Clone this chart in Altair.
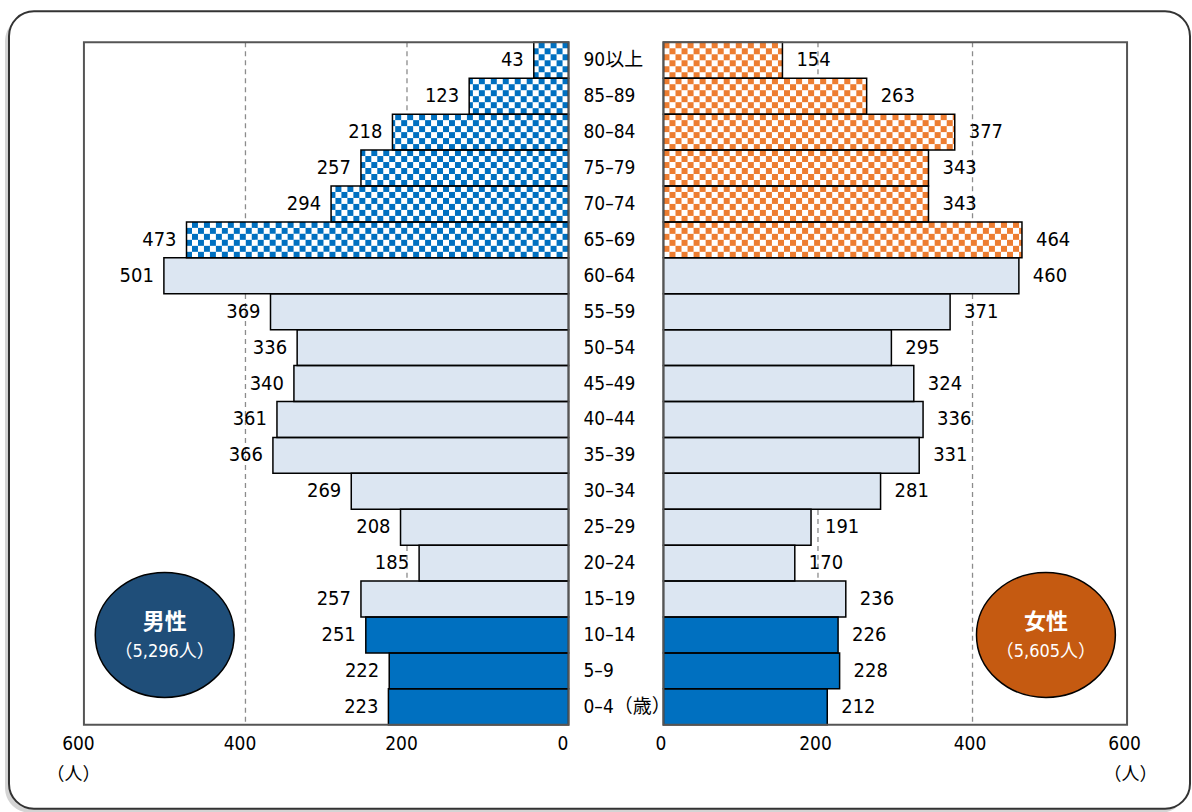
import altair as alt
import pandas as pd

# ---------------- data ----------------
ages = ["90以上", "85–89", "80–84", "75–79", "70–74", "65–69", "60–64", "55–59",
        "50–54", "45–49", "40–44", "35–39", "30–34", "25–29", "20–24", "15–19",
        "10–14", "5–9", "0–4（歳）"]
male = [43, 123, 218, 257, 294, 473, 501, 369, 336, 340, 361, 366, 269, 208, 185, 257, 251, 222, 223]
female = [154, 263, 377, 343, 343, 464, 460, 371, 295, 324, 336, 331, 281, 191, 170, 236, 226, 228, 212]
groups = ["pattern"] * 6 + ["light"] * 10 + ["solid"] * 3
male_label = "男性"
female_label = "女性"
male_total = "（5,296人）"
female_total = "（5,605人）"
tick_values = [0, 200, 400, 600]
grid_values = [200, 400]
unit_label = "（人）"

# ---------------- style ----------------
NUM_FONT = "DejaVu Sans Condensed, Noto Sans CJK JP, sans-serif"
CJK_FONT = "Noto Sans CJK JP, sans-serif"
W_L, W_M, W_R, H = 485, 95, 464, 683
ROWS = 6
N = len(ages)

male_colors = ["#FFFFFF", "#DCE6F2", "#0070C0"]
female_colors = ["#FFFFFF", "#FBE5D6", "#ED7D31"]
male_check = "#0070C0"
female_check = "#ED7D31"
ellipse = "M-1,0A1,0.9,0,1,1,1,0A1,0.9,0,1,1,-1,0Z"


def base_df(values):
    return pd.DataFrame({
        "age": ages, "value": values, "group": groups,
        "pos": list(range(N)),
        "pos2": [i + 1 for i in range(N)],
        "mid": [i + 0.5 for i in range(N)],
    })


def checker_df(values, cell):
    recs = []
    for i, (v, g) in enumerate(zip(values, groups)):
        if g != "pattern":
            continue
        c = 0
        while c * cell < v:
            x0 = c * cell
            x1 = min((c + 1) * cell, v)
            for r in range(ROWS):
                if (c + r) % 2 == 0:
                    recs.append({"x0": x0, "x1": x1,
                                 "y0": i + r / ROWS, "y1": i + (r + 1) / ROWS})
            c += 1
    return pd.DataFrame(recs)


ys = alt.Scale(domain=[0, N], reverse=True, nice=False, zero=False)


def panel(values, colors, check_color, cell, reverse, width, label_align, label_dx,
          axis_dx, title_x, circle_x, circle_color, sex, total, with_card=False):
    df = base_df(values)
    xs = alt.Scale(domain=[0, 600], reverse=reverse, nice=False, zero=True)
    axis = alt.Axis(values=tick_values, grid=False, ticks=False, domain=False,
                    labelFont=NUM_FONT, labelFontSize=19, labelColor="black",
                    labelPadding=10, labelOffset=axis_dx, labelFlush=False, format="d",
                    title=unit_label, titleFont=CJK_FONT, titleFontSize=18,
                    titleFontWeight="normal", titleColor="black",
                    titleX=title_x, titleY=50, titleAlign="center",
                    titleBaseline="middle", zindex=1)
    layers = []
    if with_card:
        shadow = alt.Chart(pd.DataFrame({"a": [0]})).mark_rect(
            cornerRadius=25, fill="#b0b0b0", opacity=0.55).encode(
            x=alt.value(-79), x2=alt.value(1103), y=alt.value(-26), y2=alt.value(771))
        card = alt.Chart(pd.DataFrame({"a": [0]})).mark_rect(
            cornerRadius=25, fill="white", stroke="#333333", strokeWidth=2).encode(
            x=alt.value(-75), x2=alt.value(1107), y=alt.value(-31), y2=alt.value(767))
        layers += [shadow, card]

    rules = alt.Chart(pd.DataFrame({"v": grid_values})).mark_rule(
        color="#8c8c8c", strokeDash=[5, 4], strokeWidth=1.3).encode(
        x=alt.X("v:Q", scale=xs, axis=axis))

    bars = alt.Chart(df).mark_rect().encode(
        x=alt.X("value:Q", scale=xs, axis=axis), x2=alt.datum(0),
        y=alt.Y("pos:Q", scale=ys, axis=None), y2="pos2:Q",
        color=alt.Color("group:N", scale=alt.Scale(domain=["pattern", "light", "solid"],
                                                  range=colors), legend=None))

    cells = alt.Chart(checker_df(values, cell)).mark_rect(color=check_color).encode(
        x=alt.X("x0:Q", scale=xs, axis=axis), x2="x1:Q",
        y=alt.Y("y0:Q", scale=ys, axis=None), y2="y1:Q")

    outlines = alt.Chart(df).mark_rect(filled=False, stroke="black", strokeWidth=1.5).encode(
        x=alt.X("value:Q", scale=xs, axis=axis), x2=alt.datum(0),
        y=alt.Y("pos:Q", scale=ys, axis=None), y2="pos2:Q")

    labels = alt.Chart(df).mark_text(align=label_align, dx=label_dx, baseline="middle",
                                     font=NUM_FONT, fontSize=20, color="black").encode(
        x=alt.X("value:Q", scale=xs, axis=axis),
        y=alt.Y("mid:Q", scale=ys, axis=None), text="value:Q")

    frame = alt.Chart(pd.DataFrame({"a": [0]})).mark_rect(
        filled=False, stroke="#555555", strokeWidth=2).encode(
        x=alt.value(0), x2=alt.value(width), y=alt.value(0), y2=alt.value(H))

    cdf = pd.DataFrame({"x": [circle_x], "y": [16.5], "sex": [sex], "total": [total]})
    circle = alt.Chart(cdf).mark_point(shape=ellipse, size=139 * 139, filled=True,
                                       fill=circle_color, stroke="black", strokeWidth=1.5,
                                       opacity=1).encode(
        x=alt.X("x:Q", scale=xs, axis=axis), y=alt.Y("y:Q", scale=ys, axis=None))
    ctext1 = alt.Chart(cdf).mark_text(font=CJK_FONT, fontSize=22, fontWeight="bold",
                                      color="white", dy=-13).encode(
        x=alt.X("x:Q", scale=xs, axis=axis), y=alt.Y("y:Q", scale=ys, axis=None), text="sex:N")
    ctext2 = alt.Chart(cdf).mark_text(font=NUM_FONT, fontSize=18, color="white",
                                      dy=17).encode(
        x=alt.X("x:Q", scale=xs, axis=axis), y=alt.Y("y:Q", scale=ys, axis=None), text="total:N")

    layers += [rules, bars, cells, outlines, labels, frame, circle, ctext1, ctext2]
    return alt.layer(*layers).properties(width=width, height=H)


left = panel(male, male_colors, male_check, 7.4, True, W_L, "right", -10, -6, -11,
             500, "#1F4E79", male_label, male_total, with_card=True)
right = panel(female, female_colors, female_check, 7.8, False, W_R, "left", 14, -3, 467,
              495, "#C55A11", female_label, female_total)

middle = alt.Chart(base_df(male)).mark_text(
    align="left", baseline="middle", font=NUM_FONT, fontSize=19, color="black").encode(
    x=alt.value(15), y=alt.Y("mid:Q", scale=ys, axis=None), text="age:N"
).properties(width=W_M, height=H)

chart = alt.hconcat(left, middle, right, spacing=0, bounds="flush").properties(
    padding={"left": 4, "top": 9, "right": 0, "bottom": 0},
    background="white",
).configure_view(stroke="transparent")

chart.save("out.html", embed_options={"renderer": "svg", "actions": False})
